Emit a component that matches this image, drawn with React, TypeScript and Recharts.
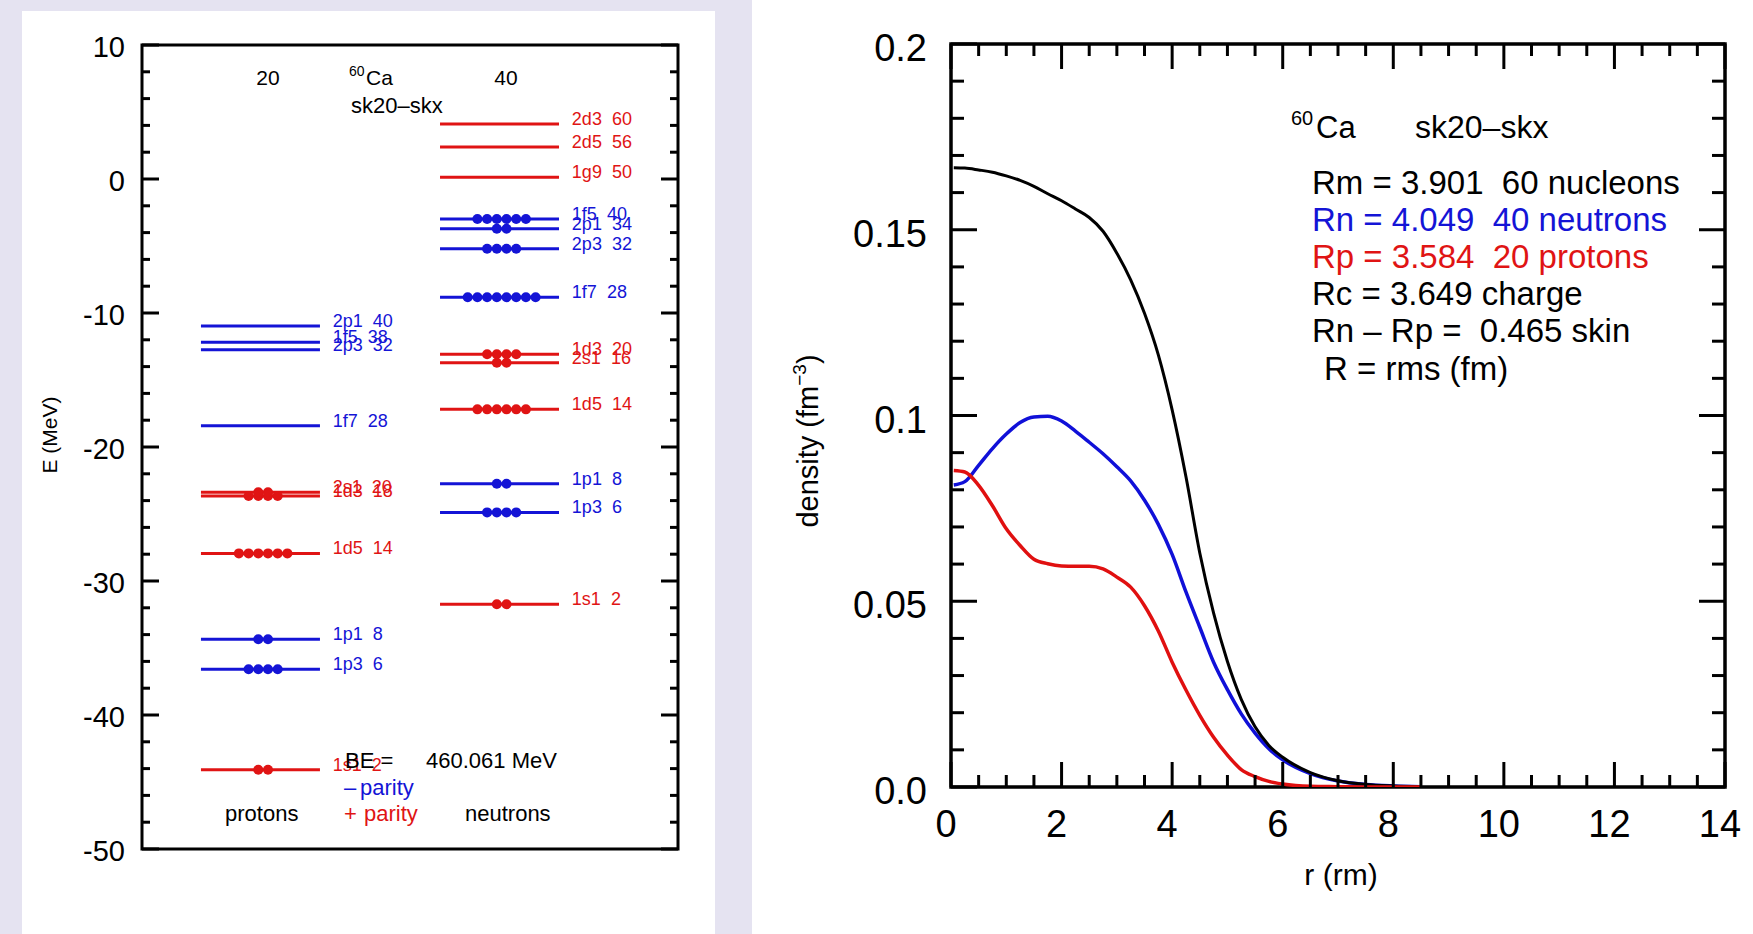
import { ScatterChart, Scatter, LineChart, Line, XAxis, YAxis, ReferenceLine, ReferenceArea } from 'recharts'

const FONT = '"Liberation Sans", Arial, Helvetica, sans-serif'
const RED = '#e01414'
const BLUE = '#1414d6'
const LAVENDER = '#e5e3f1'

// single-particle levels (MeV), 60Ca sk20-skx
const PROTON_ORBITS = ['1s1', '1p3', '1p1', '1d5', '1d3', '2s1', '1f7', '2p3', '1f5', '2p1']
const PROTON_ENERGY = [-44.08, -36.59, -34.35, -27.94, -23.66, -23.38, -18.41, -12.74, -12.19, -10.97]
const PROTON_COUNT = [2, 6, 8, 14, 18, 20, 28, 32, 38, 40]
const PROTON_FILLED = [2, 4, 2, 6, 4, 2, 0, 0, 0, 0]

const NEUTRON_ORBITS = ['1s1', '1p3', '1p1', '1d5', '2s1', '1d3', '1f7', '2p3', '2p1', '1f5', '1g9', '2d5', '2d3']
const NEUTRON_ENERGY = [-31.74, -24.88, -22.74, -17.19, -13.71, -13.08, -8.83, -5.2, -3.71, -2.99, 0.13, 2.39, 4.1]
const NEUTRON_COUNT = [2, 6, 8, 14, 16, 20, 28, 32, 34, 40, 50, 56, 60]
const NEUTRON_FILLED = [2, 4, 2, 6, 2, 4, 8, 4, 2, 6, 0, 0, 0]

const ENERGY_TICKS = [-50, -48, -46, -44, -42, -40, -38, -36, -34, -32, -30, -28, -26, -24, -22, -20, -18, -16, -14, -12, -10, -8, -6, -4, -2, 0, 2, 4, 6, 8, 10]

// densities (fm^-3) vs r
const R = [0.05, 0.25, 0.5, 0.75, 1.0, 1.25, 1.5, 1.75, 2.0, 2.25, 2.5, 2.75, 3.0, 3.25, 3.5, 3.75, 4.0, 4.25, 4.5, 4.75, 5.0, 5.25, 5.5, 5.75, 6.0, 6.5, 7.0, 7.5, 8.0, 8.5]
const RHO_MATTER = [0.1667, 0.1666, 0.1661, 0.1655, 0.1645, 0.1633, 0.1617, 0.1597, 0.1578, 0.1556, 0.1533, 0.1496, 0.1437, 0.1365, 0.1275, 0.1163, 0.1015, 0.0835, 0.063, 0.0468, 0.0338, 0.0236, 0.0162, 0.0112, 0.008, 0.0039, 0.0017, 0.0007, 0.0003, 0.0001]
const RHO_NEUTRON = [0.0813, 0.0822, 0.0866, 0.0911, 0.095, 0.0981, 0.0996, 0.0998, 0.0985, 0.0958, 0.0928, 0.0897, 0.0862, 0.0824, 0.0772, 0.0707, 0.0626, 0.0525, 0.043, 0.0336, 0.0262, 0.0197, 0.0145, 0.0103, 0.0073, 0.0036, 0.0016, 0.0007, 0.0003, 0.0001]
const RHO_PROTON = [0.0852, 0.0848, 0.0812, 0.0757, 0.0695, 0.065, 0.0613, 0.0601, 0.0595, 0.0594, 0.0594, 0.0587, 0.0565, 0.0538, 0.0488, 0.042, 0.0336, 0.0261, 0.0193, 0.0134, 0.0086, 0.0047, 0.0028, 0.0015, 0.0008, 0.0002, 0.0001, 0, 0, 0]

const R_TICKS = [0, 0.5, 1, 1.5, 2, 2.5, 3, 3.5, 4, 4.5, 5, 5.5, 6, 6.5, 7, 7.5, 8, 8.5, 9, 9.5, 10, 10.5, 11, 11.5, 12, 12.5, 13, 13.5, 14]
const RHO_TICKS = [0, 0.01, 0.02, 0.03, 0.04, 0.05, 0.06, 0.07, 0.08, 0.09, 0.1, 0.11, 0.12, 0.13, 0.14, 0.15, 0.16, 0.17, 0.18, 0.19, 0.2]
const RHO_LABELS: Record<number, string> = { 0: '0.0', 5: '0.05', 10: '0.1', 15: '0.15', 20: '0.2' }

const RM_TEXT = [
  { text: 'Rm = 3.901  60 nucleons', color: '#000' },
  { text: 'Rn = 4.049  40 neutrons', color: BLUE },
  { text: 'Rp = 3.584  20 protons', color: RED },
  { text: 'Rc = 3.649 charge', color: '#000' },
  { text: 'Rn \u2013 Rp =  0.465 skin', color: '#000' },
]

const densityRows = R.map((r, i) => ({ r, matter: RHO_MATTER[i], neutron: RHO_NEUTRON[i], proton: RHO_PROTON[i] }))

// layout of the two columns on the hidden 0..100 x axis
const COLUMNS = {
  proton: { from: 11, to: 33.2, dots: 22.6, label: 35.6 },
  neutron: { from: 55.6, to: 77.8, dots: 67.1, label: 80.2 },
}
const DOT_STEP = 1.81

const parityColor = (orbit: string) => (/[sdg]/.test(orbit) ? RED : BLUE)

function buildLevels(orbits: string[], energy: number[], count: number[], filled: number[], col: typeof COLUMNS.proton) {
  return orbits.map((o, i) => ({ orbit: o, e: energy[i], count: count[i], filled: filled[i], col, color: parityColor(o) }))
}

const levels = [
  ...buildLevels(PROTON_ORBITS, PROTON_ENERGY, PROTON_COUNT, PROTON_FILLED, COLUMNS.proton),
  ...buildLevels(NEUTRON_ORBITS, NEUTRON_ENERGY, NEUTRON_COUNT, NEUTRON_FILLED, COLUMNS.neutron),
]

const dots = levels.flatMap((lv) =>
  Array.from({ length: lv.filled }, (_, k) => ({ x: lv.col.dots + (k - (lv.filled - 1) / 2) * DOT_STEP, y: lv.e, color: lv.color })),
)
const labels = levels.map((lv) => ({ x: lv.col.label, y: lv.e, text: `${lv.orbit}  ${lv.count}`, color: lv.color }))

function energyTick(side: 'left' | 'right') {
  return (props: any) => {
    const { x, y, payload } = props
    const v = payload.value as number
    const major = v % 10 === 0
    const dir = side === 'left' ? 1 : -1
    return (
      <g>
        <line x1={x} y1={y} x2={x + dir * (major ? 17 : 8)} y2={y} stroke="#000" strokeWidth={3} />
        {side === 'left' && major && (
          <text x={x - 17} y={y + 12} textAnchor="end" fontSize={29} fontFamily={FONT} fill="#000">
            {v}
          </text>
        )}
      </g>
    )
  }
}

function rhoTick(side: 'left' | 'right') {
  return (props: any) => {
    const { x, y, payload } = props
    const k = Math.round(payload.value * 100)
    const major = k % 5 === 0
    const dir = side === 'left' ? 1 : -1
    return (
      <g>
        <line x1={x} y1={y} x2={x + dir * (major ? 26 : 13)} y2={y} stroke="#000" strokeWidth={3} />
        {side === 'left' && major && (
          <text x={x - 24} y={y + 17} textAnchor="end" fontSize={38} fontFamily={FONT} fill="#000">
            {RHO_LABELS[k]}
          </text>
        )}
      </g>
    )
  }
}

function rTick(side: 'bottom' | 'top') {
  return (props: any) => {
    const { x, y, payload } = props
    const v = payload.value as number
    const major = v % 2 === 0
    const dir = side === 'bottom' ? -1 : 1
    return (
      <g>
        <line x1={x} y1={y} x2={x} y2={y + dir * (major ? 25 : 12)} stroke="#000" strokeWidth={3} />
        {side === 'bottom' && major && (
          <text x={x - 5} y={y + 50} textAnchor="middle" fontSize={38} fontFamily={FONT} fill="#000">
            {v}
          </text>
        )}
      </g>
    )
  }
}

function LevelScheme() {
  return (
    <ScatterChart width={693} height={923} margin={{ top: 34, right: 17, bottom: 85, left: 60 }}>
      <XAxis type="number" dataKey="x" domain={[0, 100]} hide allowDataOverflow />
      <YAxis
        yAxisId="l"
        type="number"
        dataKey="y"
        domain={[-50, 10]}
        ticks={ENERGY_TICKS}
        interval={0}
        width={60}
        axisLine={false}
        tickLine={false}
        tickSize={0}
        tickMargin={0}
        tick={energyTick('left')}
        allowDataOverflow
      />
      <YAxis
        yAxisId="r"
        orientation="right"
        type="number"
        dataKey="y"
        domain={[-50, 10]}
        ticks={ENERGY_TICKS}
        interval={0}
        width={20}
        axisLine={false}
        tickLine={false}
        tickSize={0}
        tickMargin={0}
        tick={energyTick('right')}
        allowDataOverflow
      />
      <ReferenceArea yAxisId="l" x1={0} x2={100} y1={-50} y2={10} fill="none" fillOpacity={0} stroke="#000" strokeWidth={3} />
      {levels.map((lv) => (
        <ReferenceLine
          key={lv.orbit + lv.col.label}
          yAxisId="l"
          segment={[
            { x: lv.col.from, y: lv.e },
            { x: lv.col.to, y: lv.e },
          ]}
          stroke={lv.color}
          strokeWidth={3}
        />
      ))}
      <Scatter
        yAxisId="l"
        data={dots}
        isAnimationActive={false}
        shape={(p: any) => <circle cx={p.cx} cy={p.cy} r={5} fill={p.payload.color} />}
      />
      <Scatter
        yAxisId="l"
        data={labels}
        isAnimationActive={false}
        shape={(p: any) => (
          <text x={p.cx} y={p.cy + 1} fontSize={18} fontFamily={FONT} fill={p.payload.color} style={{ whiteSpace: 'pre' }}>
            {p.payload.text}
          </text>
        )}
      />
    </ScatterChart>
  )
}

function DensityChart() {
  return (
    <LineChart width={1001} height={934} data={densityRows} margin={{ top: 24, right: 8, bottom: 87, left: 119 }}>
      <XAxis
        xAxisId="b"
        type="number"
        dataKey="r"
        domain={[0, 14]}
        ticks={R_TICKS}
        interval={0}
        height={60}
        axisLine={false}
        tickLine={false}
        tickSize={0}
        tickMargin={0}
        tick={rTick('bottom')}
        allowDataOverflow
      />
      <XAxis
        xAxisId="t"
        orientation="top"
        type="number"
        dataKey="r"
        domain={[0, 14]}
        ticks={R_TICKS}
        interval={0}
        height={20}
        axisLine={false}
        tickLine={false}
        tickSize={0}
        tickMargin={0}
        tick={rTick('top')}
        allowDataOverflow
      />
      <YAxis
        yAxisId="l"
        type="number"
        domain={[0, 0.2]}
        ticks={RHO_TICKS}
        interval={0}
        width={80}
        axisLine={false}
        tickLine={false}
        tickSize={0}
        tickMargin={0}
        tick={rhoTick('left')}
        allowDataOverflow
      />
      <YAxis
        yAxisId="r"
        orientation="right"
        type="number"
        domain={[0, 0.2]}
        ticks={RHO_TICKS}
        interval={0}
        width={20}
        axisLine={false}
        tickLine={false}
        tickSize={0}
        tickMargin={0}
        tick={rhoTick('right')}
        allowDataOverflow
      />
      <ReferenceArea xAxisId="b" yAxisId="l" x1={0} x2={14} y1={0} y2={0.2} fill="none" fillOpacity={0} stroke="#000" strokeWidth={3.5} />
      <Line xAxisId="b" yAxisId="l" type="monotone" dataKey="neutron" stroke="#1010d8" strokeWidth={3.5} dot={false} isAnimationActive={false} />
      <Line xAxisId="b" yAxisId="l" type="monotone" dataKey="matter" stroke="#000" strokeWidth={3} dot={false} isAnimationActive={false} />
      <Line xAxisId="b" yAxisId="l" type="monotone" dataKey="proton" stroke="#e01010" strokeWidth={3.5} dot={false} isAnimationActive={false} />
    </LineChart>
  )
}

export default function App() {
  return (
    <div style={{ position: 'absolute', left: 0, top: 0, width: 1753, height: 934, background: LAVENDER, overflow: 'hidden', fontFamily: FONT }}>
      <div style={{ position: 'absolute', left: 22, top: 11, width: 693, height: 923, background: '#fff' }}>
        <LevelScheme />
      </div>
      <div style={{ position: 'absolute', left: 752, top: 0, width: 1001, height: 934, background: '#fff' }}>
        <DensityChart />
      </div>
      <svg width={1753} height={934} style={{ position: 'absolute', left: 0, top: 0, pointerEvents: 'none' }} fontFamily={FONT}>
        {/* left panel annotations */}
        <text x={268} y={85} fontSize={21} textAnchor="middle">20</text>
        <text x={349} y={76} fontSize={14}>60</text>
        <text x={366} y={85} fontSize={21}>Ca</text>
        <text x={506} y={85} fontSize={21} textAnchor="middle">40</text>
        <text x={351} y={113} fontSize={22}>sk20{'\u2013'}skx</text>
        <text x={57} y={435} fontSize={21} textAnchor="middle" transform="rotate(-90 57 435)">E (MeV)</text>
        <text x={345} y={768} fontSize={22}>BE =</text>
        <text x={426} y={768} fontSize={22}>460.061 MeV</text>
        <text x={344} y={795} fontSize={22} fill={BLUE}>{'\u2013'}</text>
        <text x={360} y={795} fontSize={22} fill={BLUE}>parity</text>
        <text x={344} y={821} fontSize={22} fill={RED}>+</text>
        <text x={364} y={821} fontSize={22} fill={RED}>parity</text>
        <text x={225} y={821} fontSize={22}>protons</text>
        <text x={465} y={821} fontSize={22}>neutrons</text>

        {/* right panel annotations */}
        <text x={1291} y={125} fontSize={20}>60</text>
        <text x={1316} y={138} fontSize={31}>Ca</text>
        <text x={1415} y={138} fontSize={32}>sk20{'\u2013'}skx</text>
        {RM_TEXT.map((t, i) => (
          <text key={i} x={1312} y={193.5 + i * 37.2} fontSize={33} fill={t.color} style={{ whiteSpace: 'pre' }}>
            {t.text}
          </text>
        ))}
        <text x={1324} y={379.5} fontSize={33} style={{ whiteSpace: 'pre' }}>R = rms (fm)</text>
        <text x={1341} y={885} fontSize={30} textAnchor="middle">r (rm)</text>
        <text x={818} y={441} fontSize={29} textAnchor="middle" transform="rotate(-90 818 441)">
          density (fm
          <tspan fontSize={19} dy={-12}>{'\u22123'}</tspan>
          <tspan dy={12}>)</tspan>
        </text>
      </svg>
    </div>
  )
}
